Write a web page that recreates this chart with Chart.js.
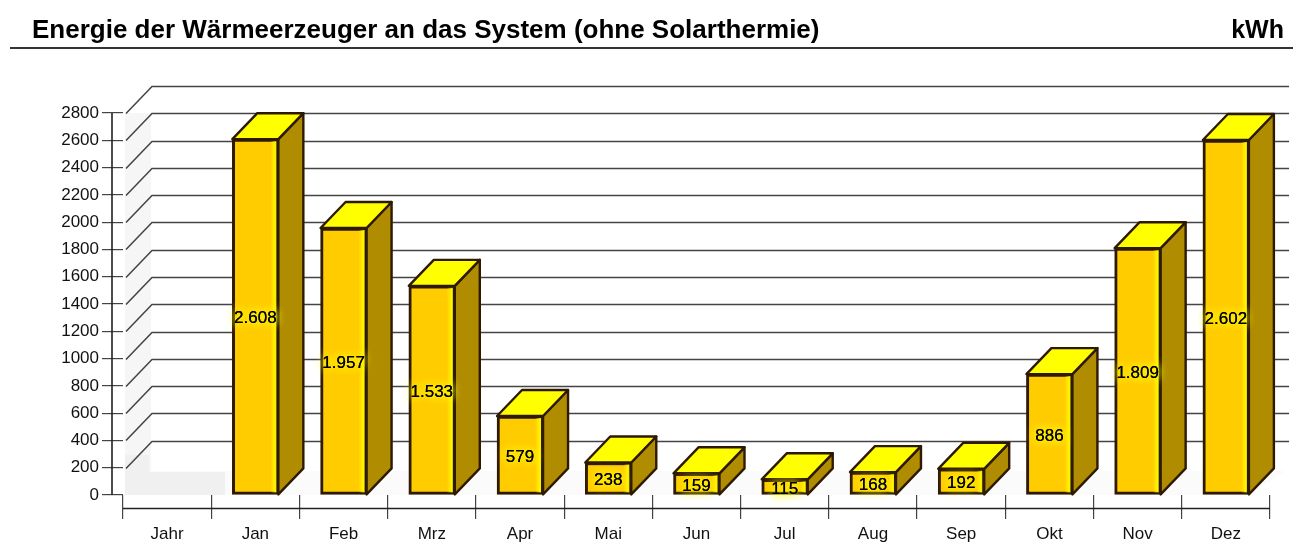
<!DOCTYPE html>
<html lang="de">
<head>
<meta charset="utf-8">
<title>Energie der Wärmeerzeuger</title>
<script src="https://cdn.jsdelivr.net/npm/chart.js@4"></script>
<style>
html,body{margin:0;padding:0;background:#fff;width:1301px;height:543px;overflow:hidden}
#wrap{position:relative;width:1301px;height:543px;filter:blur(0.45px)}
canvas{position:absolute;left:0;top:0}
.h{position:absolute;top:14px;font:bold 25px "Liberation Sans",Arial,sans-serif;color:#000;white-space:nowrap;line-height:30px}
#title{left:32px;transform:scaleX(1.04);transform-origin:left center}
#unit{right:17px}
#rule{position:absolute;left:10px;width:1283px;top:47px;height:2px;background:#333}
</style>
</head>
<body>
<div id="wrap">
<div id="title" class="h">Energie der Wärmeerzeuger an das System (ohne Solarthermie)</div>
<div id="unit" class="h">kWh</div>
<div id="rule"></div>
<canvas id="c" width="1301" height="543"></canvas>
</div>
<script>
const categories = ['Jahr','Jan','Feb','Mrz','Apr','Mai','Jun','Jul','Aug','Sep','Okt','Nov','Dez'];
const values = [null,2608,1957,1533,579,238,159,115,168,192,886,1809,2602];
const valueLabels = ['', '2.608','1.957','1.533','579','238','159','115','168','192','886','1.809','2.602'];
const yMax = 2800;
const yStep = 200;

const DEPTH_X = 25, DEPTH_Y = 26;
const OUTLINE = '#2e1a02', GRID = '#444';

const scene = {
  id: 'scene',
  beforeDatasetsDraw(chart) {
    const c = chart.ctx, y = chart.scales.y, a = chart.chartArea;
    c.save();
    const fx = a.left + 2, bx = fx + 27, b = y.getPixelForValue(0);
    // side wall and floor tint
    c.fillStyle = '#f6f6f6';
    c.fillRect(fx, a.top, 26, b - a.top);
    c.fillStyle = '#fbfbfb';
    c.beginPath();
    c.moveTo(fx, b); c.lineTo(a.right - 20, b); c.lineTo(a.right + 15, b - 24); c.lineTo(fx, b - 24);
    c.closePath(); c.fill();
    c.fillStyle = '#f0f0f0';
    c.fillRect(fx, b - 23, 100, 23);
    c.fillRect(fx, b - 40, 24, 40);
    // wall grid lines
    c.strokeStyle = GRID; c.lineWidth = 1.5;
    for (let v = yStep; v <= yMax; v += yStep) {
      const py = Math.round(y.getPixelForValue(v)) + .5;
      c.beginPath();
      c.moveTo(fx + 1, py); c.lineTo(bx, py - 27); c.lineTo(a.right + 19, py - 27);
      c.stroke();
    }
    // axes
    c.strokeStyle = '#222'; c.lineWidth = 1.6;
    c.beginPath();
    c.moveTo(a.left - 11, a.top); c.lineTo(a.left - 11, b);
    c.moveTo(a.left, b + 13.5); c.lineTo(a.right, b + 13.5);
    c.stroke();
    c.restore();
  },
  afterDatasetsDraw(chart) {
    const c = chart.ctx, meta = chart.getDatasetMeta(0);
    c.save();
    c.lineJoin = 'round';
    meta.data.forEach((bar, i) => {
      if (values[i] == null) return;
      const hw = bar.width / 2, l = bar.x - hw, r = bar.x + hw, t = bar.y, b = bar.base;
      // side face
      c.fillStyle = '#b08c00'; c.strokeStyle = OUTLINE; c.lineWidth = 2.4;
      c.beginPath();
      c.moveTo(r, t); c.lineTo(r + DEPTH_X, t - DEPTH_Y); c.lineTo(r + DEPTH_X, b - DEPTH_Y); c.lineTo(r, b);
      c.closePath(); c.fill(); c.stroke();
      // top face
      c.fillStyle = '#ffff00';
      c.beginPath();
      c.moveTo(l, t); c.lineTo(l + DEPTH_X, t - DEPTH_Y); c.lineTo(r + DEPTH_X, t - DEPTH_Y); c.lineTo(r, t);
      c.closePath(); c.fill(); c.stroke();
      // bright strip on the front's right edge
      const g = c.createLinearGradient(r - 8, 0, r - 2, 0);
      g.addColorStop(0, 'rgba(255,255,0,0)'); g.addColorStop(1, '#ffff00');
      c.fillStyle = g;
      c.fillRect(r - 8, t + 2, 6, b - t - 4);
      // value label with yellow halo
      c.font = '17px "Liberation Sans", Arial, sans-serif';
      c.textAlign = 'center'; c.textBaseline = 'middle';
      const my = (t + b) / 2 + 2;
      c.shadowColor = '#ffff00'; c.shadowBlur = 10;
      c.fillStyle = '#000';
      for (let n = 0; n < 3; n++) c.fillText(valueLabels[i], bar.x, my);
      c.shadowBlur = 0;
    });
    c.restore();
  }
};

new Chart(document.getElementById('c'), {
  type: 'bar',
  data: {
    labels: categories,
    datasets: [{
      data: values,
      backgroundColor: '#ffcc00',
      borderColor: OUTLINE,
      borderWidth: 3,
      barThickness: 46,
      borderSkipped: false
    }]
  },
  plugins: [scene],
  options: {
    responsive: false,
    animation: false,
    devicePixelRatio: 1,
    layout: { padding: { top: 113, right: 31, left: 0, bottom: 0 } },
    plugins: { legend: { display: false }, title: { display: false }, tooltip: { enabled: false } },
    scales: {
      x: {
        offset: true,
        afterFit(s) { s.height = 48; },
        border: { display: false },
        grid: { offset: true, drawOnChartArea: false, tickLength: 24, color: '#444', lineWidth: 1.2 },
        ticks: { autoSkip: false, maxRotation: 0, minRotation: 0, padding: 5, color: '#111',
                 font: { family: '"Liberation Sans", Arial, sans-serif', size: 17 } }
      },
      y: {
        min: 0, max: yMax,
        afterFit(s) { s.width = 123; },
        border: { display: false },
        grid: { drawOnChartArea: false, tickLength: 21, color: '#444', lineWidth: 1.2 },
        ticks: { stepSize: yStep, padding: 3, color: '#111', callback: v => String(v),
                 font: { family: '"Liberation Sans", Arial, sans-serif', size: 17 } }
      }
    }
  }
});
</script>
</body>
</html>
